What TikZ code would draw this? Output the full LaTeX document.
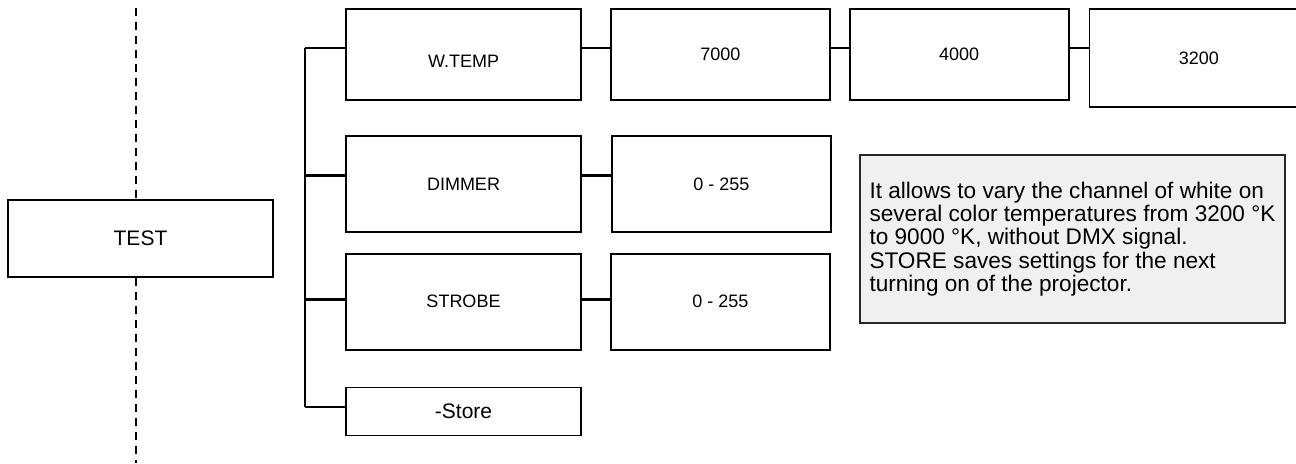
\documentclass[tikz,border=0pt]{standalone}
\usepackage{fontspec}
\setmainfont{Liberation Sans}
\usetikzlibrary{positioning}

\begin{document}
\begin{tikzpicture}[x=0.5pt,y=-0.5pt,
  menubox/.style={draw=black,rectangle,line width=0.9pt,inner sep=0pt,minimum width=117.5pt,minimum height=48pt,font=\fontsize{9pt}{10.8pt}\selectfont},
  valbox/.style={menubox,minimum width=109.5pt},
  link/.style={draw=black,line width=1.1pt},
  guide/.style={draw=black,line width=1pt,dash pattern=on 3.8pt off 3.2pt},
  notebox/.style={draw=black!85,fill=black!6,line width=1pt,align=left,minimum width=212.5pt,minimum height=84pt,font=\fontsize{11.3pt}{11.6pt}\selectfont}]
  \useasboundingbox (0,0) rectangle (1296,463);
  % left column
  \node[menubox,minimum width=132.5pt,minimum height=38.5pt,font=\fontsize{10.5pt}{12pt}\selectfont] (test) at (140.5,238.5) {TEST};
  \coordinate (dashtop) at (135.5,8);
  \coordinate (dashbot) at (135.5,463);
  \draw[guide] (dashtop) -- (dashtop |- test.north);
  \draw[guide] (dashtop |- test.south) -- (dashbot);
  % menu entries
  \node[menubox,minimum height=45.5pt,label={[font=\fontsize{9pt}{10.8pt}\selectfont,yshift=-3.5pt]center:W.TEMP}] (wtemp) at (463.5,54.5) {};
  \node[valbox,minimum height=45.5pt,right=14pt of wtemp] (t7000) {7000};
  \node[valbox,minimum height=45.5pt,right=9pt of t7000] (t4000) {4000};
  \node[valbox,minimum height=49pt,below right=0pt and 9.5pt of t4000.north east] (t3200) {3200};
  \node[menubox,below=17pt of wtemp] (dimmer) {DIMMER};
  \node[valbox,right=14.5pt of dimmer] (dimval) {0 - 255};
  \node[menubox,below=10pt of dimmer] (strobe) {STROBE};
  \node[valbox,right=14pt of strobe] (strobeval) {0 - 255};
  \node[menubox,minimum height=24pt,font=\fontsize{10.5pt}{12pt}\selectfont,below=18pt of strobe] (store) {-Store};
  % bus
  \coordinate (tapwt) at (305,47.7);
  \coordinate (tapdim) at (305,175.5);
  \coordinate (tapstr) at (305,299.5);
  \coordinate (tapsto) at (305,407.3);
  \draw[link] (tapwt) -- (tapsto);
  \foreach \t/\b in {tapwt/wtemp,tapdim/dimmer,tapstr/strobe,tapsto/store}
    \draw[link] (\t) -- (\t -| \b.west);
  \foreach \a/\b/\t in {wtemp/t7000/tapwt,t7000/t4000/tapwt,t4000/t3200/tapwt,dimmer/dimval/tapdim,strobe/strobeval/tapstr}
    \draw[link] (\a.east |- \t) -- (\b.west |- \t);
  % note
  \node[notebox] (note) at (1072.5,239) {It allows to vary the channel of white on\\several color temperatures from 3200 °K\\to 9000 °K, without DMX signal.\\STORE saves settings for the next\\turning on of the projector.};
\end{tikzpicture}
\end{document}
